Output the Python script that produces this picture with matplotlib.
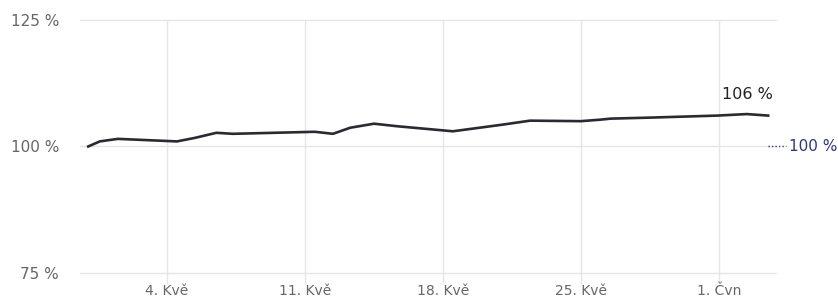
import matplotlib.pyplot as plt
import matplotlib.dates as mdates
import pandas as pd

# data (relative value in %)
dates = [
    "2020-04-30 00:00", "2020-04-30 14:00", "2020-05-01 12:00", "2020-05-04 12:00",
    "2020-05-05 10:00", "2020-05-06 12:00", "2020-05-07 08:00", "2020-05-11 12:00",
    "2020-05-12 10:00", "2020-05-13 07:00", "2020-05-14 12:00", "2020-05-15 16:00",
    "2020-05-18 12:00", "2020-05-21 00:00", "2020-05-22 10:00", "2020-05-25 00:00",
    "2020-05-26 00:00", "2020-05-26 12:00", "2020-05-28 12:00", "2020-05-31 22:00",
    "2020-06-02 10:00", "2020-06-03 12:00",
]
values = [
    100.0, 101.0, 101.5, 101.0,
    101.7, 102.7, 102.5, 102.9,
    102.5, 103.7, 104.5, 104.0,
    103.0, 104.3, 105.1, 105.0,
    105.3, 105.5, 105.7, 106.1,
    106.4, 106.1,
]
tick_dates = ["2020-05-04", "2020-05-11", "2020-05-18", "2020-05-25", "2020-06-01"]
tick_labels = ["4. Kvě", "11. Kvě", "18. Kvě", "25. Kvě", "1. Čvn"]
y_ticks = [75, 100, 125]
y_labels = ["75 %", "100 %", "125 %"]
last_label = "106 %"
baseline = 100

x = pd.to_datetime(dates)

fig = plt.figure(figsize=(8.38, 3.02), dpi=100)
ax = fig.add_axes([0.0955, 0.096, 0.83, 0.838])

ax.plot(x, values, color="#2a2a30", lw=1.9, solid_joinstyle="round", zorder=3)

ax.set_ylim(75, 125)
ax.set_xlim(mdates.date2num(pd.Timestamp("2020-04-29 14:00")),
            mdates.date2num(pd.Timestamp("2020-06-03 21:00")))

ax.set_yticks(y_ticks)
ax.set_yticklabels(y_labels)
ax.set_xticks(pd.to_datetime(tick_dates))
ax.set_xticklabels(tick_labels)

grid_c = "#e6e6e6"
ax.grid(True, color=grid_c, lw=1)
for gl in ax.get_ygridlines() + ax.get_xgridlines():
    gl.set_clip_on(False)
ax.tick_params(axis="y", length=0, pad=15, labelsize=11, labelcolor="#666666")
ax.tick_params(axis="x", length=8, width=1, color=grid_c, pad=0,
               labelsize=10, labelcolor="#666666")
for s in ax.spines.values():
    s.set_visible(False)

# last value label
ax.annotate(last_label, xy=(x[-1], values[-1]), xytext=(-15, 10),
            textcoords="offset points", ha="center", va="bottom",
            fontsize=11.5, color="#222222")

# baseline marker at right edge
navy = "#2e3585"
ax.plot([0.9885, 1.0145], [baseline, baseline], transform=ax.get_yaxis_transform(),
        color=navy, lw=1, ls=(0, (1, 1.5)), clip_on=False)
ax.text(1.019, baseline, "100 %", transform=ax.get_yaxis_transform(),
        ha="left", va="center", fontsize=11, color=navy)

fig.savefig("out.png", dpi=100)
